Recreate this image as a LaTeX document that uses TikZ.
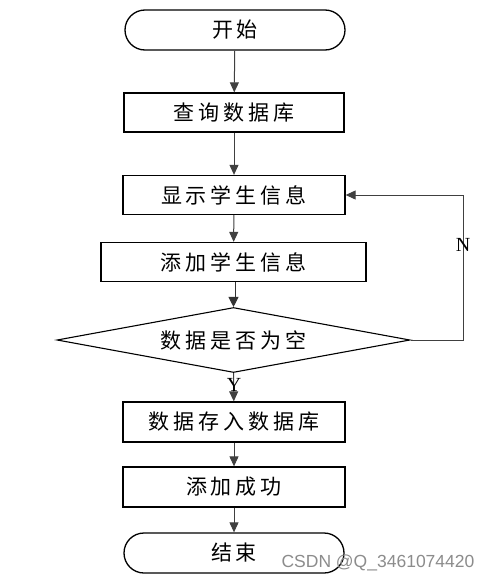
\documentclass[tikz,border=0pt]{standalone}
\usepackage{fontspec}
\newfontfamily\cjk[LetterSpace=19]{Noto Sans CJK SC}
\newfontfamily\lat{Liberation Serif}
\newfontfamily\wm{Liberation Sans}
\usetikzlibrary{arrows.meta,shapes.geometric}
\tikzset{
  box/.style={draw=black,line width=1.3pt,rectangle,minimum height=39pt,inner sep=0pt,font=\cjk\fontsize{21pt}{21pt}\selectfont},
  term/.style={box,rounded corners=20pt,minimum height=40pt},
  decide/.style={draw=black,line width=1.1pt,diamond,aspect=5.4,inner sep=0pt,minimum width=353pt,minimum height=65pt,font=\cjk\fontsize{21pt}{21pt}\selectfont},
  conn/.style={draw=black!75,line width=1pt,-{Triangle[length=10pt,width=9pt]}},
  lab/.style={font=\lat\fontsize{20pt}{20pt}\selectfont,inner sep=0pt}
}
\begin{document}
\begin{tikzpicture}[x=1pt,y=-1pt]
\useasboundingbox[fill=white] (0,0) rectangle (495,581);
\node[term,minimum width=220pt] (start) at (235,30) {开始};
\node[box,minimum width=220pt] (q) at (234,112.5) {查询数据库};
\node[box,minimum width=222pt] (show) at (234,195) {显示学生信息};
\node[box,minimum width=265pt] (add) at (233.5,262) {添加学生信息};
\node[decide] (dia) at (233.5,340) {数据是否为空};
\node[box,minimum width=222pt,minimum height=40pt] (store) at (234,422) {数据存入数据库};
\node[box,minimum width=222pt,minimum height=40pt] (ok) at (234,487) {添加成功};
\node[term,minimum width=220pt] (end) at (234,553) {结束};
\coordinate (nc) at (463,340);
\draw[conn] (start) -- (q);
\draw[conn] (q) -- (show);
\draw[conn] (show) -- (add);
\draw[draw=black!80,line width=0.9pt,double,double distance=2.2pt,-{Triangle[length=10pt,width=10pt]}] (add) -- (dia.north);
\draw[conn] (dia.south) -- (store);
\draw[conn] (store) -- (ok);
\draw[conn] (ok) -- (end);
\draw[conn] (dia.east) -- (nc) |- (show.east);
\node[lab] (ylab) at (234,385) {Y};
\node[lab] (nlab) at (463,245) {N};
\node[font=\wm\fontsize{17.5pt}{17.5pt}\selectfont,text=black!45,inner sep=0pt] (wmark) at (378,563) {CSDN @Q\_3461074420};
\end{tikzpicture}
\end{document}
